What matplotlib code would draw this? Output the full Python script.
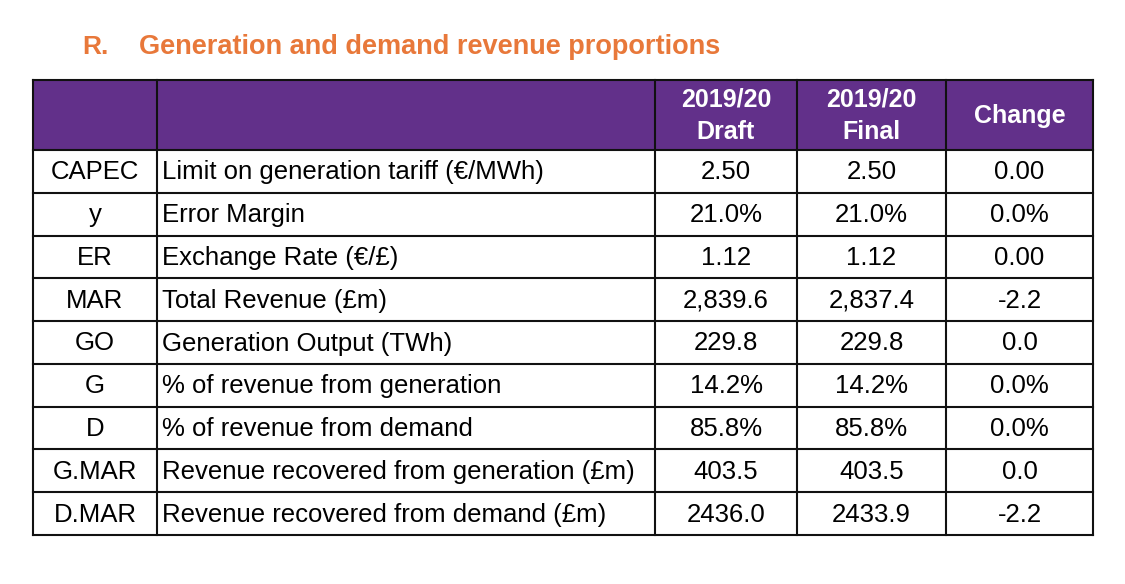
import matplotlib.pyplot as plt
from matplotlib.patches import Rectangle

plt.rcParams['font.family'] = ['Liberation Sans', 'DejaVu Sans']

title = "R.    Generation and demand revenue proportions"
headers = ["", "", "2019/20\nDraft", "2019/20\nFinal", "Change"]
codes = ["CAPEC", "y", "ER", "MAR", "GO", "G", "D", "G.MAR", "D.MAR"]
descriptions = [
    "Limit on generation tariff (\u20ac/MWh)",
    "Error Margin",
    "Exchange Rate (\u20ac/\u00a3)",
    "Total Revenue (\u00a3m)",
    "Generation Output (TWh)",
    "% of revenue from generation",
    "% of revenue from demand",
    "Revenue recovered from generation (\u00a3m)",
    "Revenue recovered from demand (\u00a3m)",
]
draft = ["2.50", "21.0%", "1.12", "2,839.6", "229.8", "14.2%", "85.8%", "403.5", "2436.0"]
final = ["2.50", "21.0%", "1.12", "2,837.4", "229.8", "14.2%", "85.8%", "403.5", "2433.9"]
change = ["0.00", "0.0%", "0.00", "-2.2", "0.0", "0.0%", "0.0%", "0.0", "-2.2"]

W, H = 1125, 584
fig = plt.figure(figsize=(W / 100, H / 100), dpi=100)
ax = fig.add_axes([0, 0, 1, 1])
ax.set_xlim(0, W)
ax.set_ylim(H, 0)
ax.axis('off')

col_x = [33, 157, 655, 797, 946, 1093]
top, head_bot, bottom = 80, 150, 535
row_h = (bottom - head_bot) / len(codes)
purple = '#62308A'
edge = '#111111'
fs = 18.5

ax.text(82, 47, "R.", color='#E8783A', fontsize=19, fontweight='bold',
        ha='left', va='center')
ax.text(139, 47, title.split("    ")[1], color='#E8783A', fontsize=19.5,
        fontweight='bold', ha='left', va='center')

# header band
ax.add_patch(Rectangle((col_x[0], top), col_x[-1] - col_x[0], head_bot - top,
                       facecolor=purple, edgecolor='none'))
for i, h in enumerate(headers):
    if h:
        cx = (col_x[i] + col_x[i + 1]) / 2
        ax.text(cx, (top + head_bot) / 2 + 1, h, color='white', fontsize=18,
                fontweight='bold', ha='center', va='center', linespacing=1.45)

# body rows
for r in range(len(codes)):
    cy = head_bot + row_h * (r + 0.5) + 1
    ax.text((col_x[0] + col_x[1]) / 2, cy, codes[r], fontsize=fs, ha='center', va='center')
    ax.text(col_x[1] + 5, cy, descriptions[r], fontsize=fs, ha='left', va='center')
    ax.text((col_x[2] + col_x[3]) / 2, cy, draft[r], fontsize=fs, ha='center', va='center')
    ax.text((col_x[3] + col_x[4]) / 2, cy, final[r], fontsize=fs, ha='center', va='center')
    ax.text((col_x[4] + col_x[5]) / 2, cy, change[r], fontsize=fs, ha='center', va='center')

# grid lines
lw = 1.5
for x in col_x:
    ax.plot([x, x], [top, bottom], color=edge, lw=lw, solid_capstyle='projecting')
for k in range(len(codes) + 1):
    y = head_bot + row_h * k
    ax.plot([col_x[0], col_x[-1]], [y, y], color=edge, lw=lw, solid_capstyle='projecting')
ax.plot([col_x[0], col_x[-1]], [top, top], color=edge, lw=lw, solid_capstyle='projecting')

fig.savefig('out.png', dpi=100, facecolor='white')
